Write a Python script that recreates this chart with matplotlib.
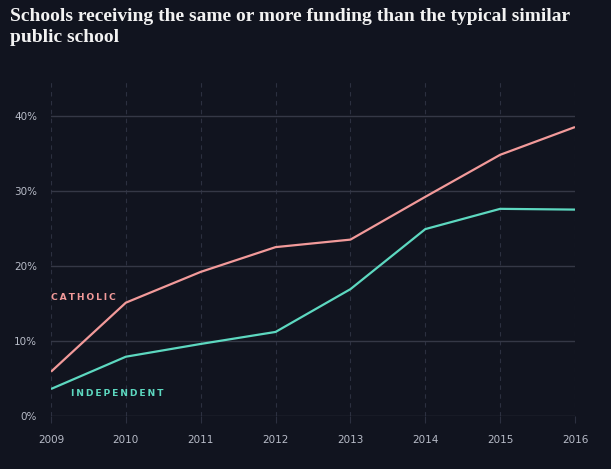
import matplotlib
matplotlib.use("Agg")
import matplotlib.pyplot as plt

years = [2009, 2010, 2011, 2012, 2013, 2014, 2015, 2016]
catholic = [5.9, 15.1, 19.2, 22.5, 23.5, 29.2, 34.8, 38.5]
independent = [3.6, 7.9, 9.6, 11.2, 16.9, 24.9, 27.6, 27.5]
yticks = [0, 10, 20, 30, 40]
ytick_labels = ["0%", "10%", "20%", "30%", "40%"]
title = "Schools receiving the same or more funding than the typical similar\npublic school"

bg = "#11141f"
fig = plt.figure(figsize=(6.11, 4.69), dpi=100, facecolor=bg)
ax = fig.add_axes([51/611, 1-416/469, (575-51)/611, (416-82)/469], facecolor=bg)

for x in years:
    ax.axvline(x, color="#2c3040", lw=0.8, ls=(0, (4, 4)), zorder=1)
for y in yticks:
    ax.axhline(y, color="#353846", lw=1.0, zorder=1)

ax.plot(years, catholic, color="#f29a9a", lw=1.6, zorder=3, solid_capstyle="butt")
ax.plot(years, independent, color="#5dd8c0", lw=1.6, zorder=3, solid_capstyle="butt")

ax.set_xlim(2009, 2016)
ax.set_ylim(0, 44.5)
ax.set_xticks(years)
ax.set_xticklabels([str(y) for y in years])
ax.set_yticks(yticks)
ax.set_yticklabels(ytick_labels)
ax.tick_params(axis="x", colors="#2c3040", length=5, width=0.8, labelcolor="#b8bcc8", labelsize=7.5, pad=9)
ax.tick_params(axis="y", length=0, labelcolor="#b8bcc8", labelsize=7.5, pad=10)
for s in ax.spines.values():
    s.set_visible(False)

sp = "\u2009"
ax.text(2009, 15.8, sp.join("CATHOLIC"), color="#f29a9a", fontsize=6.6, fontweight="bold",
        ha="left", va="center")
ax.text(2009.27, 3.0, sp.join("INDEPENDENT"), color="#5dd8c0", fontsize=6.6, fontweight="bold",
        ha="left", va="center")

fig.text(10/611, 1-8/469, title, color="#f2f2f2", fontsize=14, fontweight="bold",
         family="Liberation Serif", ha="left", va="top", linespacing=1.3)

fig.savefig("out.png", dpi=100, facecolor=bg)
